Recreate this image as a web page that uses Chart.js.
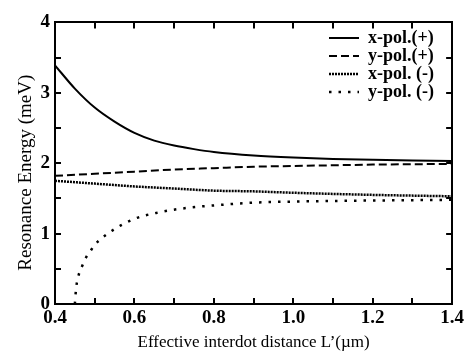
<!DOCTYPE html>
<html>
<head>
<meta charset="utf-8">
<script src="https://cdn.jsdelivr.net/npm/chart.js@4"></script>
<style>
  body { margin: 0; background: #fff; }
</style>
</head>
<body>
<canvas id="graphic" width="473" height="358"></canvas>
<script>
// L' (um) and resonance energies (meV)
const xPolPlusL = [0.4, 0.45, 0.5, 0.55, 0.6, 0.65, 0.7, 0.75, 0.8, 0.9, 1.0, 1.1, 1.2, 1.3, 1.4];
const xPolPlusE = [3.39, 3.06, 2.79, 2.59, 2.43, 2.32, 2.25, 2.20, 2.16, 2.11, 2.08, 2.06, 2.05, 2.04, 2.03];

const yPolPlusL = [0.4, 0.5, 0.6, 0.7, 0.8, 0.9, 1.0, 1.2, 1.4];
const yPolPlusE = [1.82, 1.85, 1.88, 1.91, 1.93, 1.95, 1.96, 1.98, 1.99];

const xPolMinusL = [0.4, 0.5, 0.6, 0.7, 0.8, 0.9, 1.0, 1.2, 1.4];
const xPolMinusE = [1.75, 1.71, 1.67, 1.64, 1.61, 1.60, 1.58, 1.55, 1.53];

const yPolMinusL = [0.45, 0.452, 0.455, 0.46, 0.467, 0.479, 0.49, 0.5, 0.5125, 0.546, 0.6, 0.66, 0.74, 0.8, 0.9, 1.0, 1.2, 1.4];
const yPolMinusE = [0.0, 0.15, 0.3, 0.42, 0.52, 0.67, 0.76, 0.84, 0.91, 1.05, 1.21, 1.30, 1.37, 1.40, 1.44, 1.455, 1.47, 1.48];

const seriesNames = ['x-pol.(+)', 'y-pol.(+)', 'x-pol. (-)', 'y-pol. (-)'];

const pts = (xs, ys) => xs.map((x, i) => ({x: x, y: ys[i]}));
const serif = 'Liberation Serif';

const line = (label, data, dash, width) => ({
    label: label,
    data: data,
    borderColor: '#000',
    backgroundColor: '#000',
    borderWidth: width,
    borderDash: dash,
    borderCapStyle: 'butt',
    pointRadius: 0,
    cubicInterpolationMode: 'monotone',
    fill: false
});

// move the legend into the upper right corner of the plot
const legendPlace = {
    id: 'legendPlace',
    afterLayout(chart) {
        const lg = chart.legend;
        lg.left = 329;
        lg.right = lg.left + lg.width;
        lg.top = 29;
    }
};

const frameAxis = (pos) => ({
    position: pos,
    type: 'linear',
    grid: { drawOnChartArea: false, tickLength: -6, color: '#000', lineWidth: 2 },
    border: { display: true, color: '#000', width: 2 },
    ticks: { display: false }
});

const ctx = document.getElementById('graphic').getContext('2d');
new Chart(ctx, {
    type: 'line',
    data: {
        datasets: [
            line(seriesNames[0], pts(xPolPlusL, xPolPlusE), [], 2),
            line(seriesNames[1], pts(yPolPlusL, yPolPlusE), [8, 4], 2),
            line(seriesNames[2], pts(xPolMinusL, xPolMinusE), [2, 1], 2.5),
            line(seriesNames[3], pts(yPolMinusL, yPolMinusE), [2.5, 7], 2.5)
        ]
    },
    options: {
        responsive: false,
        animation: false,
        devicePixelRatio: 1,
        layout: { padding: 0 },
        plugins: {
            tooltip: { enabled: false },
            legend: {
                position: 'chartArea',
                align: 'start',
                labels: {
                    usePointStyle: true,
                    pointStyle: 'line',
                    pointStyleWidth: 30,
                    padding: 0,
                    color: '#000',
                    font: { family: serif, size: 18, weight: 'bold' },
                    generateLabels: chart => Chart.defaults.plugins.legend.labels.generateLabels(chart).map((item, i) => {
                        const ds = chart.data.datasets[i];
                        return Object.assign(item, {
                            lineDash: ds.borderDash,
                            lineWidth: ds.borderWidth,
                            lineCap: 'butt',
                            strokeStyle: '#000',
                            fillStyle: '#000'
                        });
                    })
                }
            }
        },
        scales: {
            x: {
                type: 'linear',
                position: 'bottom',
                min: 0.4,
                max: 1.4,
                afterFit: s => { s.height = 54; },
                grid: { drawOnChartArea: false, tickLength: -6, color: '#000', lineWidth: 2 },
                border: { display: true, color: '#000', width: 2 },
                ticks: {
                    stepSize: 0.1,
                    maxRotation: 0,
                    autoSkip: false,
                    padding: 9,
                    color: '#000',
                    font: { family: serif, size: 19, weight: 'bold' },
                    callback: v => Math.round(v * 10) % 2 === 0 ? v.toFixed(1) : ''
                },
                title: {
                    display: true,
                    text: 'Effective interdot distance L\u2019(\u00b5m)',
                    color: '#000',
                    padding: { top: 0, bottom: 5 },
                    font: { family: serif, size: 17 }
                }
            },
            y: {
                type: 'linear',
                position: 'left',
                min: 0,
                max: 4,
                afterFit: s => { s.width = 55; },
                grid: { drawOnChartArea: false, tickLength: -6, color: '#000', lineWidth: 2 },
                border: { display: true, color: '#000', width: 2 },
                ticks: {
                    stepSize: 0.5,
                    autoSkip: false,
                    padding: 11,
                    color: '#000',
                    font: { family: serif, size: 19, weight: 'bold' },
                    callback: v => Number.isInteger(v) ? String(v) : ''
                },
                title: {
                    display: true,
                    text: 'Resonance Energy (meV)    ',
                    color: '#000',
                    padding: { top: 15, bottom: 0 },
                    font: { family: serif, size: 19 }
                }
            },
            x2: Object.assign(frameAxis('top'), {
                min: 0.4, max: 1.4,
                afterFit: s => { s.height = 10; },
                ticks: { display: false, stepSize: 0.1 }
            }),
            y2: Object.assign(frameAxis('right'), {
                min: 0, max: 4,
                afterFit: s => { s.width = 17; },
                ticks: { display: false, stepSize: 0.5 }
            })
        }
    },
    plugins: [legendPlace]
});
</script>
</body>
</html>
